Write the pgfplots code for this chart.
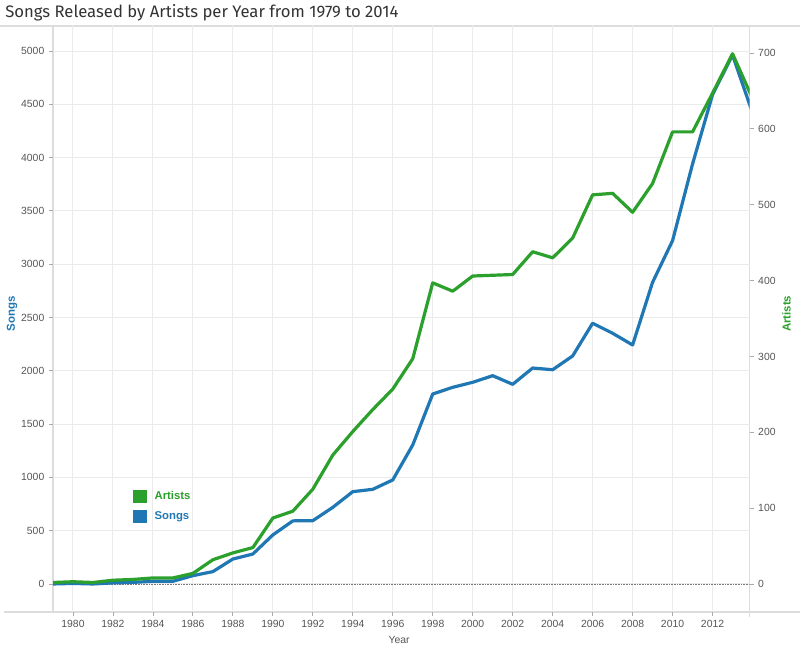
\documentclass[border=0pt]{standalone}
\usepackage{fontspec}
\setmainfont{Liberation Sans}
\newfontfamily\titlefont{Fira Sans}
\usepackage{pgfplots}
\pgfplotsset{compat=1.18}
\usepackage{pgfplotstable}
\definecolor{tblue}{HTML}{1F77B4}
\definecolor{tgreen}{HTML}{2CA02C}
\definecolor{gridc}{HTML}{EBEBEB}
\definecolor{framec}{HTML}{DDDDDD}
\definecolor{tickc}{HTML}{555555}
\definecolor{titlec}{HTML}{333333}

\pgfplotstableread{
year songs artists
1979 0 2
1980 5 3
1981 0 2
1982 10 5
1983 15 6
1984 25 8
1985 25 8
1986 78 14
1987 116 32
1988 234 41
1989 281 48
1990 460 87
1991 592 96
1992 594 125
1993 719 170
1994 866 201
1995 888 230
1996 976 257
1997 1304 297
1998 1782 397
1999 1845 386
2000 1892 406
2001 1954 407
2002 1873 408
2003 2026 438
2004 2010 430
2005 2139 456
2006 2446 513
2007 2352 515
2008 2242 490
2009 2830 528
2010 3221 596
2011 3940 596
2012 4590 647
2013 4962 699
2014 4420 640
}\datatable

\pgfplotsset{
  base/.style={
    scale only axis, width=522.375pt, height=440.25pt,
    at={(39.75pt,29.25pt)}, anchor=south west,
    xmin=1979, xmax=2013.85,
    axis line style={draw=none},
    tick style={draw=tickc!50, line width=0.6pt},
    major tick length=3pt,
    tick align=outside,
    ticklabel style={font=\fontsize{7.8}{9}\selectfont, text=tickc},
    /pgf/number format/assume math mode=true,
    /pgf/number format/1000 sep={},
  }
}

\begin{document}
\begin{tikzpicture}
\useasboundingbox (0,0) rectangle (600pt,488.25pt);
% frame lines
\draw[framec, line width=1.1pt] (0pt,468.75pt) -- (600pt,468.75pt);
\draw[framec, line width=1.4pt] (3pt,29.25pt) -- (600pt,29.25pt);
\draw[framec, line width=1.4pt] (39.75pt,29.25pt) -- (39.75pt,468.75pt);
\draw[framec, line width=1.4pt] (562.125pt,25.5pt) -- (562.125pt,468.75pt);

\begin{axis}[base,
  ymin=-263, ymax=5244,
  ytick={0,500,...,5000},
  xtick={1980,1982,...,2012},
  grid=major, major grid style={gridc, line width=0.75pt},
  ytick pos=left, xtick pos=bottom,
  ylabel={Songs},
  ylabel style={at={(rel axis cs:0,0.508)}, anchor=center, yshift=30.75pt, font=\bfseries\fontsize{8.6}{10}\selectfont, text=tblue},
  xlabel={Year},
  xlabel style={at={(rel axis cs:0.497,0)}, anchor=center, yshift=-21pt, font=\fontsize{7.8}{9}\selectfont, text=tickc},
]
\draw[tickc!80, line width=0.6pt, dash pattern=on 0.6pt off 0.6pt] (axis cs:1979,0) -- (axis cs:2013.85,0);
\addplot[tblue, line width=2.4pt, line join=round] table[x=year,y=songs]{\datatable};
\end{axis}

\begin{axis}[base,
  ymin=-36.9, ymax=736.9,
  ytick={0,100,...,700},
  xtick=\empty,
  ytick pos=right, yticklabel pos=right,
  ylabel={Artists},
  ylabel style={at={(rel axis cs:1,0.508)}, anchor=center, yshift=-27.75pt, font=\bfseries\fontsize{8.6}{10}\selectfont, text=tgreen},
  legend style={at={(rel axis cs:0.1149,0.2112)}, anchor=north west, draw=none, fill=none, inner sep=0pt, row sep=3.75pt, column sep=3.5pt,
    font=\bfseries\fontsize{8.5}{10}\selectfont},
  legend cell align=left,
  legend image code/.code={\path[#1, draw=none, fill] (0pt,-4.9pt) rectangle (10.5pt,4.9pt);},
]
\addplot[tgreen, line width=2.4pt, line join=round] table[x=year,y=artists]{\datatable};
\addlegendentry{\textcolor{tgreen}{Artists}}
\addlegendimage{tblue, line width=2.4pt}
\addlegendentry{\textcolor{tblue}{Songs}}
\end{axis}

\node[anchor=base west, inner sep=0pt, font=\titlefont\fontsize{12.5}{14}\selectfont, text=titlec] at (3.75pt,474.75pt) {Songs Released by Artists per Year from 1979 to 2014};
\end{tikzpicture}
\end{document}
